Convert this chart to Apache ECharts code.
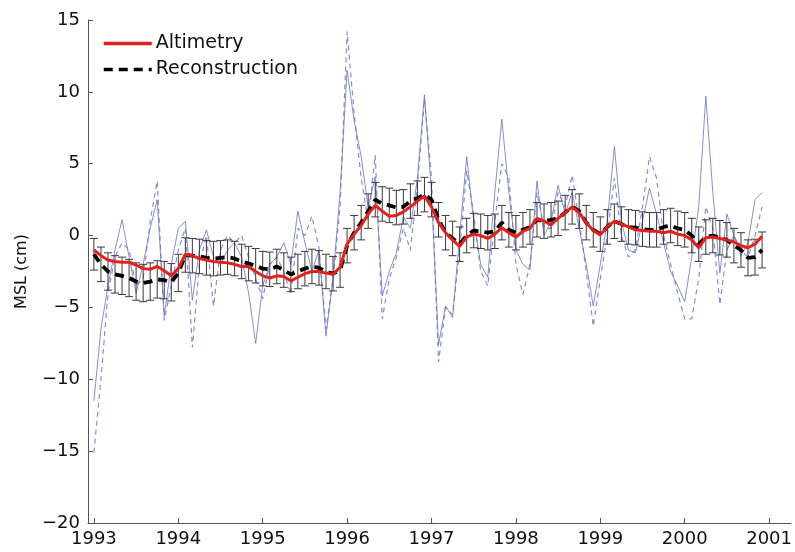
<!DOCTYPE html>
<html><head><meta charset="utf-8">
<script src="https://cdn.jsdelivr.net/npm/echarts@6/dist/echarts.min.js"></script>
<style>html,body{margin:0;padding:0;background:#fff}#c{width:795px;height:552px}</style>
</head><body><div id="c"></div>
<script>
// ---- data (monthly, Jan 1993 .. Dec 2000) ----
const firstYear = 1993;
const yearTicks = [1993, 1994, 1995, 1996, 1997, 1998, 1999, 2000, 2001];
const seriesNames = ['Altimetry', 'Reconstruction'];

const altimetry = [
  -1.0, -1.4, -1.7, -1.8, -1.85, -1.85, -2.05, -2.3, -2.35, -2.15, -2.45, -2.8,
  -2.3, -1.3, -1.4, -1.6, -1.7, -1.8, -1.85, -1.9, -2.0, -2.15, -2.15, -2.5,
  -2.8, -2.95, -2.8, -2.85, -3.15, -2.9, -2.65, -2.5, -2.5, -2.6, -2.7, -2.2,
  -0.6, 0.1, 0.7, 1.5, 2.1, 1.7, 1.35, 1.4, 1.65, 2.0, 2.4, 2.75,
  2.0, 0.9, 0.2, -0.3, -0.75, -0.1, 0.1, 0.0, -0.2, 0.1, 0.55, 0.2,
  -0.1, 0.3, 0.5, 1.2, 1.0, 0.75, 1.2, 1.6, 2.0, 1.6, 0.9, 0.35,
  0.05, 0.6, 1.0, 0.8, 0.6, 0.4, 0.35, 0.3, 0.3, 0.2, 0.3, 0.1,
  0.0, -0.3, -0.85, -0.15, -0.1, -0.2, -0.3, -0.45, -0.7, -0.85, -0.6, -0.05
];

const reconstruction = [
  -1.3, -2.0, -2.5, -2.7, -2.8, -2.95, -3.2, -3.3, -3.2, -3.05, -3.1, -3.25,
  -2.6, -1.35, -1.4, -1.45, -1.55, -1.6, -1.55, -1.5, -1.6, -1.8, -1.95, -2.1,
  -2.3, -2.35, -2.15, -2.4, -2.7, -2.5, -2.3, -2.15, -2.25, -2.5, -2.65, -2.4,
  -0.7, 0.2, 0.9, 1.7, 2.5, 2.2, 2.1, 1.95, 2.0, 2.4, 2.6, 2.85,
  2.5, 1.1, 0.2, -0.2, -0.6, 0.0, 0.35, 0.3, 0.2, 0.3, 0.9, 0.4,
  0.2, 0.4, 0.6, 1.1, 1.0, 1.1, 1.2, 1.6, 2.0, 1.7, 0.9, 0.4,
  0.1, 0.6, 1.0, 0.8, 0.6, 0.55, 0.45, 0.4, 0.4, 0.6, 0.7, 0.5,
  0.4, 0.0, -0.6, -0.1, 0.0, -0.15, -0.3, -0.7, -1.0, -1.55, -1.5, -1.0
];

const reconstructionError = [
  1.1, 1.2, 1.3, 1.3, 1.3, 1.3, 1.3, 1.3, 1.3, 1.3, 1.3, 1.3,
  1.3, 1.2, 1.2, 1.2, 1.2, 1.2, 1.2, 1.2, 1.2, 1.2, 1.2, 1.2,
  1.2, 1.2, 1.2, 1.2, 1.2, 1.2, 1.2, 1.2, 1.2, 1.2, 1.2, 1.2,
  1.2, 1.2, 1.2, 1.2, 1.2, 1.2, 1.2, 1.2, 1.2, 1.2, 1.2, 1.2,
  1.2, 1.2, 1.2, 1.2, 1.2, 1.2, 1.2, 1.2, 1.2, 1.2, 1.2, 1.2,
  1.2, 1.2, 1.2, 1.2, 1.2, 1.2, 1.2, 1.2, 1.2, 1.2, 1.2, 1.2,
  1.2, 1.2, 1.2, 1.2, 1.2, 1.2, 1.2, 1.2, 1.2, 1.2, 1.2, 1.2,
  1.2, 1.2, 1.2, 1.2, 1.2, 1.2, 1.2, 1.2, 1.2, 1.25, 1.25, 1.25
];

const blueSolid = [
  -11.5, -6.5, -3.5, -1.0, 1.1, -1.5, -4.0, -2.0, 0.5, 2.5, -5.6, -2.0,
  0.5, 1.0, -4.5, -1.0, 0.4, -1.5, -2.0, -1.0, -0.5, -1.5, -4.0, -7.5,
  -3.5, -2.0, -1.5, -0.5, -2.0, 1.7, -0.5, -2.5, -1.0, -7.0, -3.0, 3.0,
  11.5, 8.0, 5.5, 2.0, 4.1, -4.2, -2.5, -1.2, 1.3, 0.5, 4.0, 9.8,
  3.0, -7.6, -4.9, -5.7, 0.0, 5.5, 1.0, -2.0, -2.9, 3.0, 8.1, 3.0,
  -1.0, -2.0, -2.4, 3.8, 0.0, 1.0, 3.5, 1.5, 3.0, 0.5, -2.0, -4.9,
  -2.0, 1.0, 6.2, 1.0, -1.0, -1.2, 1.0, 3.3, 1.5, -0.5, -2.5, -3.5,
  -4.6, -1.5, 2.0, 9.7, 3.0, -2.6, 1.5, 0.0, -1.4, -0.5, 2.5, 3.0
];

const blueDashed = [
  -15.1, -10.0, -4.0, -1.5, -0.5, -1.0, -3.5, -3.0, 1.0, 3.8, -5.9, -3.5,
  -1.0, 0.5, -7.8, -2.0, 0.0, -4.9, -1.0, 0.0, -0.5, 0.0, -1.5, -3.0,
  -4.4, -2.0, -1.5, -2.5, -4.1, 0.5, 0.0, 1.35, -0.85, -6.5, -3.0, 2.0,
  14.2, 8.5, 4.0, 1.0, 5.6, -5.8, -3.0, -1.5, 0.5, -1.0, 3.5, 9.5,
  4.0, -8.8, -5.0, -5.5, -1.0, 4.5, 1.5, -2.5, -3.5, 1.0, 5.0, 4.0,
  -2.0, -4.1, -2.0, 3.0, 0.5, 0.5, 3.0, 2.0, 4.2, 1.0, -2.5, -6.3,
  -3.0, 0.0, 4.0, 0.0, -1.5, -1.0, 2.0, 5.5, 4.0, 0.0, -2.0, -4.0,
  -5.8, -5.8, -3.0, 2.0, 0.5, -4.8, -1.0, 0.0, -1.0, -1.5, 0.0, 2.0
];

// ---- build ----
const t = altimetry.map((_, i) => firstYear + i / 12);
const pairs = arr => arr.map((v, i) => [t[i], v]);
const errData = reconstruction.map((v, i) => [t[i], v - reconstructionError[i], v + reconstructionError[i]]);
const minus = v => String(v).replace('-', '\u2212');
const FONT = 'DejaVu Sans';

const chart = echarts.init(document.getElementById('c'));
chart.setOption({
  animation: false,
  backgroundColor: '#fff',
  grid: { left: 88, right: 0, top: 20, bottom: 29 },
  legend: {
    data: seriesNames,
    orient: 'vertical',
    left: 97, top: 29,
    itemWidth: 48, itemHeight: 16, itemGap: 7,
    itemStyle: { opacity: 0, borderWidth: 0 },
    lineStyle: { width: 3.5 },
    textStyle: { fontFamily: FONT, fontSize: 19, color: '#111', padding: [0, 0, 0, -1] },
    selectedMode: false
  },
  xAxis: {
    type: 'value', min: 1992.93, max: 2001.26,
    axisLine: { show: true, onZero: false, lineStyle: { color: '#555', width: 1 } },
    axisTick: { show: true, inside: true, length: 5, customValues: yearTicks, lineStyle: { color: '#555' } },
    axisLabel: { customValues: yearTicks, formatter: v => String(v), fontFamily: FONT, fontSize: 18, color: '#111', margin: 7 },
    splitLine: { show: false }
  },
  yAxis: {
    type: 'value', min: -20, max: 15, interval: 5,
    name: 'MSL (cm)', nameLocation: 'middle', nameGap: 58, nameRotate: 90,
    nameTextStyle: { fontFamily: FONT, fontSize: 16, color: '#111' },
    axisLine: { show: true, lineStyle: { color: '#555', width: 1 } },
    axisTick: { show: true, inside: true, length: 5, lineStyle: { color: '#555' } },
    axisLabel: { formatter: minus, fontFamily: FONT, fontSize: 18, color: '#111', margin: 8 },
    splitLine: { show: false }
  },
  series: [
    {
      name: 'blue-solid', type: 'line', data: pairs(blueSolid), symbol: 'none', silent: true, z: 1,
      lineStyle: { color: '#6a72c4', width: 1, opacity: 0.8 }
    },
    {
      name: 'blue-dashed', type: 'line', data: pairs(blueDashed), symbol: 'none', silent: true, z: 1,
      lineStyle: { color: '#6a72c4', width: 1.2, opacity: 0.8, type: [5, 4] }
    },
    {
      name: 'err', type: 'custom', data: errData, z: 2, silent: true,
      encode: { x: 0, y: [1, 2] },
      renderItem: (params, api) => {
        const x = api.value(0);
        const lo = api.coord([x, api.value(1)]);
        const hi = api.coord([x, api.value(2)]);
        const w = 4;
        const st = { stroke: '#3a3a3a', lineWidth: 1 };
        return {
          type: 'group', children: [
            { type: 'line', shape: { x1: lo[0], y1: lo[1], x2: hi[0], y2: hi[1] }, style: st },
            { type: 'line', shape: { x1: lo[0] - w, y1: lo[1], x2: lo[0] + w, y2: lo[1] }, style: st },
            { type: 'line', shape: { x1: hi[0] - w, y1: hi[1], x2: hi[0] + w, y2: hi[1] }, style: st }
          ]
        };
      }
    },
    {
      name: 'Reconstruction', type: 'line', data: pairs(reconstruction), symbol: 'none', z: 3,
      itemStyle: { color: '#000' },
      lineStyle: { color: '#000', width: 3.8, type: [9, 6] }
    },
    {
      name: 'Altimetry', type: 'line', data: pairs(altimetry), symbol: 'none', z: 4,
      itemStyle: { color: '#e3201b' },
      lineStyle: { color: '#e3201b', width: 3 }
    }
  ]
});
</script>
</body></html>
